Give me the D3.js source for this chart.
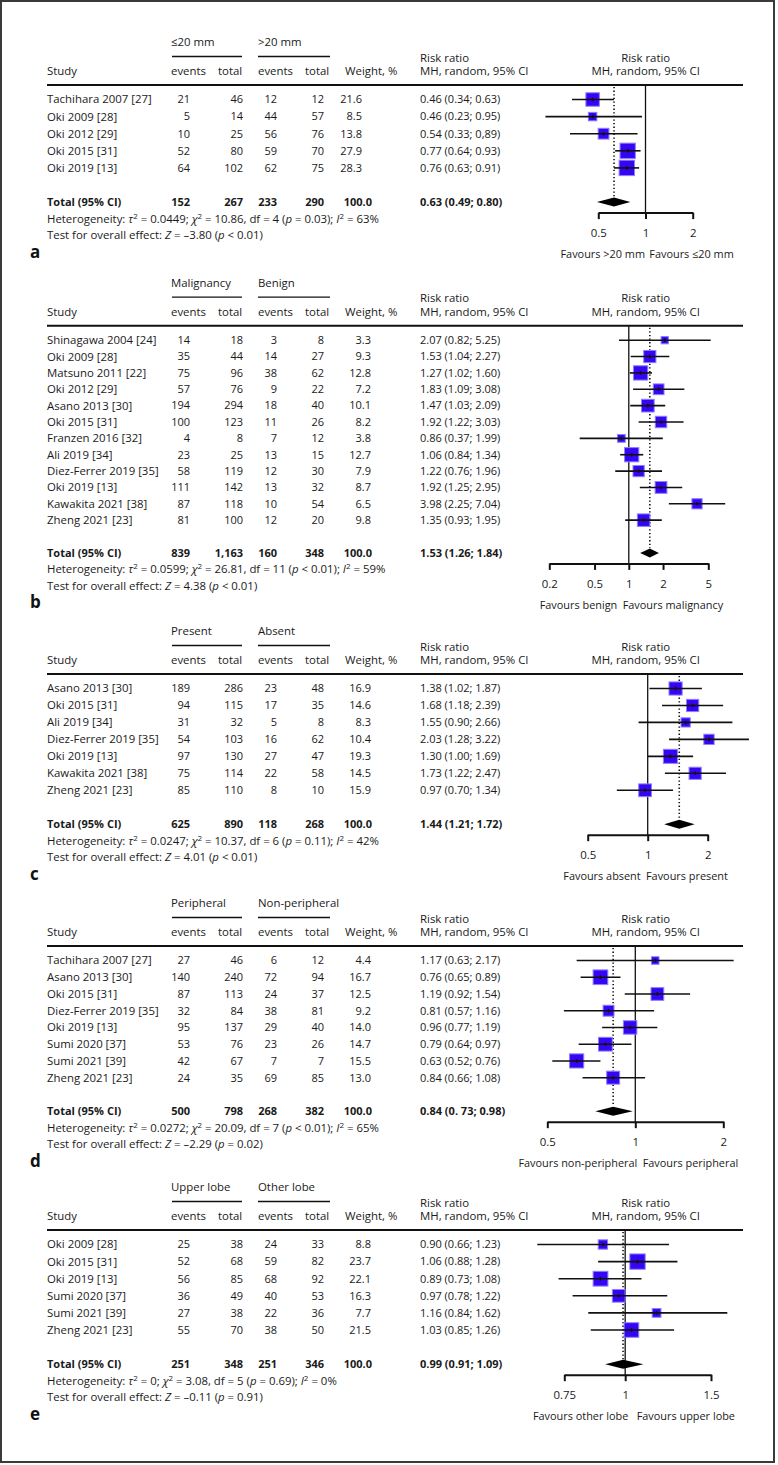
<!DOCTYPE html>
<html><head><meta charset="utf-8">
<script src="https://cdn.jsdelivr.net/npm/d3@7/dist/d3.min.js"></script>
<style>html,body{margin:0;padding:0;background:#fff}</style>
</head><body>
<svg id="chart" width="778" height="1465"></svg>
<script>
// ---------------- Panel a ----------------
const aGroupLabels = ["≤20 mm", ">20 mm"];
const aStudies = ["Tachihara 2007 [27]", "Oki 2009 [28]", "Oki 2012 [29]", "Oki 2015 [31]", "Oki 2019 [13]"];
const aEvents1 = [21, 5, 10, 52, 64];
const aTotal1 = [46, 14, 25, 80, 102];
const aEvents2 = [12, 44, 56, 59, 62];
const aTotal2 = [12, 57, 76, 70, 75];
const aWeight = [21.6, 8.5, 13.8, 27.9, 28.3];
const aRR = [0.46, 0.46, 0.54, 0.77, 0.76];
const aLower = [0.34, 0.23, 0.33, 0.64, 0.63];
const aUpper = [0.63, 0.95, 0.89, 0.93, 0.91];
const aCILabels = ["0.46 (0.34; 0.63)", "0.46 (0.23; 0.95)", "0.54 (0.33; 0,89)", "0.77 (0.64; 0.93)", "0.76 (0.63; 0.91)"];
const aTotalRow = [152, 267, 233, 290];
const aPooled = [0.63, 0.49, 0.80];
const aPooledLabel = "0.63 (0.49; 0.80)";
const aHeterogeneity = "Heterogeneity: {τ}^2 = 0.0449; {χ}^2 = 10.86, df = 4 ({p} = 0.03); {I}^2 = 63%";
const aTest = "Test for overall effect: {Z} = –3.80 ({p} < 0.01)";
const aTicks = [0.5, 1, 2];
const aFavours = ["Favours >20 mm", "Favours ≤20 mm"];

// ---------------- Panel b ----------------
const bGroupLabels = ["Malignancy", "Benign"];
const bStudies = ["Shinagawa 2004 [24]", "Oki 2009 [28]", "Matsuno 2011 [22]", "Oki 2012 [29]", "Asano 2013 [30]", "Oki 2015 [31]", "Franzen 2016 [32]", "Ali 2019 [34]", "Diez-Ferrer 2019 [35]", "Oki 2019 [13]", "Kawakita 2021 [38]", "Zheng 2021 [23]"];
const bEvents1 = [14, 35, 75, 57, 194, 100, 4, 23, 58, 111, 87, 81];
const bTotal1 = [18, 44, 96, 76, 294, 123, 8, 25, 119, 142, 118, 100];
const bEvents2 = [3, 14, 38, 9, 18, 11, 7, 13, 12, 13, 10, 12];
const bTotal2 = [8, 27, 62, 22, 40, 26, 12, 15, 30, 32, 54, 20];
const bWeight = [3.3, 9.3, 12.8, 7.2, 10.1, 8.2, 3.8, 12.7, 7.9, 8.7, 6.5, 9.8];
const bRR = [2.07, 1.53, 1.27, 1.83, 1.47, 1.92, 0.86, 1.06, 1.22, 1.92, 3.98, 1.35];
const bLower = [0.82, 1.04, 1.02, 1.09, 1.03, 1.22, 0.37, 0.84, 0.76, 1.25, 2.25, 0.93];
const bUpper = [5.25, 2.27, 1.60, 3.08, 2.09, 3.03, 1.99, 1.34, 1.96, 2.95, 7.04, 1.95];
const bCILabels = ["2.07 (0.82; 5.25)", "1.53 (1.04; 2.27)", "1.27 (1.02; 1.60)", "1.83 (1.09; 3.08)", "1.47 (1.03; 2.09)", "1.92 (1.22; 3.03)", "0.86 (0.37; 1.99)", "1.06 (0.84; 1.34)", "1.22 (0.76; 1.96)", "1.92 (1.25; 2.95)", "3.98 (2.25; 7.04)", "1.35 (0.93; 1.95)"];
const bTotalRow = [839, 1163, 160, 348];
const bPooled = [1.53, 1.26, 1.84];
const bPooledLabel = "1.53 (1.26; 1.84)";
const bHeterogeneity = "Heterogeneity: {τ}^2 = 0.0599; {χ}^2 = 26.81, df = 11 ({p} < 0.01); {I}^2 = 59%";
const bTest = "Test for overall effect: {Z} = 4.38 ({p} < 0.01)";
const bTicks = [0.2, 0.5, 1, 2, 5];
const bFavours = ["Favours benign", "Favours malignancy"];

// ---------------- Panel c ----------------
const cGroupLabels = ["Present", "Absent"];
const cStudies = ["Asano 2013 [30]", "Oki 2015 [31]", "Ali 2019 [34]", "Diez-Ferrer 2019 [35]", "Oki 2019 [13]", "Kawakita 2021 [38]", "Zheng 2021 [23]"];
const cEvents1 = [189, 94, 31, 54, 97, 75, 85];
const cTotal1 = [286, 115, 32, 103, 130, 114, 110];
const cEvents2 = [23, 17, 5, 16, 27, 22, 8];
const cTotal2 = [48, 35, 8, 62, 47, 58, 10];
const cWeight = [16.9, 14.6, 8.3, 10.4, 19.3, 14.5, 15.9];
const cRR = [1.38, 1.68, 1.55, 2.03, 1.30, 1.73, 0.97];
const cLower = [1.02, 1.18, 0.90, 1.28, 1.00, 1.22, 0.70];
const cUpper = [1.87, 2.39, 2.66, 3.22, 1.69, 2.47, 1.34];
const cCILabels = ["1.38 (1.02; 1.87)", "1.68 (1.18; 2.39)", "1.55 (0.90; 2.66)", "2.03 (1.28; 3.22)", "1.30 (1.00; 1.69)", "1.73 (1.22; 2.47)", "0.97 (0.70; 1.34)"];
const cTotalRow = [625, 890, 118, 268];
const cPooled = [1.44, 1.21, 1.72];
const cPooledLabel = "1.44 (1.21; 1.72)";
const cHeterogeneity = "Heterogeneity: {τ}^2 = 0.0247; {χ}^2 = 10.37, df = 6 ({p} = 0.11); {I}^2 = 42%";
const cTest = "Test for overall effect: {Z} = 4.01 ({p} < 0.01)";
const cTicks = [0.5, 1, 2];
const cFavours = ["Favours absent", "Favours present"];

// ---------------- Panel d ----------------
const dGroupLabels = ["Peripheral", "Non-peripheral"];
const dStudies = ["Tachihara 2007 [27]", "Asano 2013 [30]", "Oki 2015 [31]", "Diez-Ferrer 2019 [35]", "Oki 2019 [13]", "Sumi 2020 [37]", "Sumi 2021 [39]", "Zheng 2021 [23]"];
const dEvents1 = [27, 140, 87, 32, 95, 53, 42, 24];
const dTotal1 = [46, 240, 113, 84, 137, 76, 67, 35];
const dEvents2 = [6, 72, 24, 38, 29, 23, 7, 69];
const dTotal2 = [12, 94, 37, 81, 40, 26, 7, 85];
const dWeight = [4.4, 16.7, 12.5, 9.2, 14.0, 14.7, 15.5, 13.0];
const dRR = [1.17, 0.76, 1.19, 0.81, 0.96, 0.79, 0.63, 0.84];
const dLower = [0.63, 0.65, 0.92, 0.57, 0.77, 0.64, 0.52, 0.66];
const dUpper = [2.17, 0.89, 1.54, 1.16, 1.19, 0.97, 0.76, 1.08];
const dCILabels = ["1.17 (0.63; 2.17)", "0.76 (0.65; 0.89)", "1.19 (0.92; 1.54)", "0.81 (0.57; 1.16)", "0.96 (0.77; 1.19)", "0.79 (0.64; 0.97)", "0.63 (0.52; 0.76)", "0.84 (0.66; 1.08)"];
const dTotalRow = [500, 798, 268, 382];
const dPooled = [0.84, 0.73, 0.98];
const dPooledLabel = "0.84 (0. 73; 0.98)";
const dHeterogeneity = "Heterogeneity: {τ}^2 = 0.0272; {χ}^2 = 20.09, df = 7 ({p} < 0.01); {I}^2 = 65%";
const dTest = "Test for overall effect: {Z} = –2.29 ({p} = 0.02)";
const dTicks = [0.5, 1, 2];
const dFavours = ["Favours non-peripheral", "Favours peripheral"];

// ---------------- Panel e ----------------
const eGroupLabels = ["Upper lobe", "Other lobe"];
const eStudies = ["Oki 2009 [28]", "Oki 2015 [31]", "Oki 2019 [13]", "Sumi 2020 [37]", "Sumi 2021 [39]", "Zheng 2021 [23]"];
const eEvents1 = [25, 52, 56, 36, 27, 55];
const eTotal1 = [38, 68, 85, 49, 38, 70];
const eEvents2 = [24, 59, 68, 40, 22, 38];
const eTotal2 = [33, 82, 92, 53, 36, 50];
const eWeight = [8.8, 23.7, 22.1, 16.3, 7.7, 21.5];
const eRR = [0.90, 1.06, 0.89, 0.97, 1.16, 1.03];
const eLower = [0.66, 0.88, 0.73, 0.78, 0.84, 0.85];
const eUpper = [1.23, 1.28, 1.08, 1.22, 1.62, 1.26];
const eCILabels = ["0.90 (0.66; 1.23)", "1.06 (0.88; 1.28)", "0.89 (0.73; 1.08)", "0.97 (0.78; 1.22)", "1.16 (0.84; 1.62)", "1.03 (0.85; 1.26)"];
const eTotalRow = [251, 348, 251, 346];
const ePooled = [0.99, 0.91, 1.09];
const ePooledLabel = "0.99 (0.91; 1.09)";
const eHeterogeneity = "Heterogeneity: {τ}^2 = 0; {χ}^2 = 3.08, df = 5 ({p} = 0.69); {I}^2 = 0%";
const eTest = "Test for overall effect: {Z} = –0.11 ({p} = 0.91)";
const eTicks = [0.75, 1, 1.5];
const eFavours = ["Favours other lobe", "Favours upper lobe"];

const panelLetters = ["a", "b", "c", "d", "e"];
const totalWeightLabel = "100.0";
const columnHeaders = ["Study", "events", "total", "events", "total", "Weight, %"];
const rrHeader = ["Risk ratio", "MH, random, 95% CI"];

// ---------------- assemble ----------------
function mk(group, studies, e1, t1, e2, t2, w, rr, lo, hi, ci, tot, pooled, pooledLabel, het, test, ticks, fav) {
  return {group, studies, e1, t1, e2, t2, w, rr, lo, hi, ci, tot, pooled, pooledLabel, het, test, ticks, fav};
}
const panels = [
  mk(aGroupLabels, aStudies, aEvents1, aTotal1, aEvents2, aTotal2, aWeight, aRR, aLower, aUpper, aCILabels, aTotalRow, aPooled, aPooledLabel, aHeterogeneity, aTest, aTicks, aFavours),
  mk(bGroupLabels, bStudies, bEvents1, bTotal1, bEvents2, bTotal2, bWeight, bRR, bLower, bUpper, bCILabels, bTotalRow, bPooled, bPooledLabel, bHeterogeneity, bTest, bTicks, bFavours),
  mk(cGroupLabels, cStudies, cEvents1, cTotal1, cEvents2, cTotal2, cWeight, cRR, cLower, cUpper, cCILabels, cTotalRow, cPooled, cPooledLabel, cHeterogeneity, cTest, cTicks, cFavours),
  mk(dGroupLabels, dStudies, dEvents1, dTotal1, dEvents2, dTotal2, dWeight, dRR, dLower, dUpper, dCILabels, dTotalRow, dPooled, dPooledLabel, dHeterogeneity, dTest, dTicks, dFavours),
  mk(eGroupLabels, eStudies, eEvents1, eTotal1, eEvents2, eTotal2, eWeight, eRR, eLower, eUpper, eCILabels, eTotalRow, ePooled, ePooledLabel, eHeterogeneity, eTest, eTicks, eFavours)
];

// layout (positions only)
const layouts = [
  {heavy: 85,    step: 17.1,  axis: [598.3, 692.7], k: 2.9,  fav: [645, 649.3], wRight: 362},
  {heavy: 325.7, step: 16.36, axis: [549.3, 708.3], k: 4.0,  fav: [617.3, 622.7], wRight: 371},
  {heavy: 674,   step: 16.96, axis: [587.7, 707.7], k: 3.2,  fav: [640.7, 646], wRight: 371},
  {heavy: 946,   step: 16.74, axis: [547.3, 723.3], k: 3.6,  fav: [637.3, 642.7], wRight: 371},
  {heavy: 1230,  step: 17.1,  axis: [564.3, 711],   k: 3.15, fav: [628.3, 636.7], wRight: 371}
];

const FONT = "'Open Sans', 'Noto Sans', sans-serif";
const FS = 11.4;   // word text
const FSN = 11;    // numeric text
const FSB = 11;    // bold text
const TXT = "#1a1a1a";
const col = {study: 47, e1: 190, t1: 243, e2: 277, t2: 324, rr: 420,
             hE1: 171, hT1: 218, hE2: 258, hT2: 305, hW: 345, line: [47, 743], rrCenter: 645.7};
const fmtInt = d3.format(",");
const fmt1 = d3.format(".1f");

const svg = d3.select("#chart").attr("font-family", FONT).attr("font-size", FS);
svg.append("rect").attr("x", 1).attr("y", 1).attr("width", 773).attr("height", 1461)
  .attr("fill", "none").attr("stroke", "#3a3a3a").attr("stroke-width", 2);

function txt(g, x, y, s, anchor, weight, size) {
  const t = g.append("text").attr("x", x).attr("y", y).attr("dy", "0.35em")
    .attr("text-anchor", anchor || "start").attr("fill", TXT)
    .attr("font-weight", weight || "normal").text(s);
  if (size) t.attr("font-size", size);
  else if (weight === "bold") t.attr("font-size", FSB);
  return t;
}
function richText(g, x, y, s) {
  const t = g.append("text").attr("x", x).attr("y", y).attr("dy", "0.35em").attr("fill", TXT);
  const parts = s.split(/(\{[^}]+\}|\^2)/).filter(p => p.length);
  let sup = false;
  parts.forEach(p => {
    if (p === "^2") {
      t.append("tspan").attr("dy", -4).attr("font-size", 8).text("2");
      sup = true;
    } else {
      const ts = t.append("tspan");
      if (sup) { ts.attr("dy", 4); sup = false; }
      if (p.startsWith("{")) ts.attr("font-style", "italic").text(p.slice(1, -1));
      else ts.text(p);
    }
  });
  return t;
}

panels.forEach((p, pi) => {
  const L = layouts[pi];
  const g = svg.append("g");
  const H = L.heavy;
  const row0 = H + 14.5;
  const n = p.studies.length;
  const rowY = i => row0 + i * L.step;
  const totalY = row0 + (n + 1) * L.step;
  const axisY = totalY + 10.5;

  // headers
  txt(g, col.hE1, H - 42.5, p.group[0]);
  txt(g, col.hE2, H - 42.5, p.group[1]);
  g.append("line").attr("x1", 172).attr("x2", 242).attr("y1", H - 28.5).attr("y2", H - 28.5).attr("stroke", "#111").attr("stroke-width", 1.3);
  g.append("line").attr("x1", 258).attr("x2", 330).attr("y1", H - 28.5).attr("y2", H - 28.5).attr("stroke", "#111").attr("stroke-width", 1.3);
  const hx = [col.study, col.hE1, col.hT1, col.hE2, col.hT2, col.hW];
  columnHeaders.forEach((h, i) => txt(g, hx[i], H - 13.5, h));
  txt(g, col.rr, H - 27.3, rrHeader[0]);
  txt(g, col.rr, H - 13.5, rrHeader[1]);
  txt(g, col.rrCenter, H - 27.3, rrHeader[0], "middle");
  txt(g, col.rrCenter, H - 13.5, rrHeader[1], "middle");
  g.append("line").attr("x1", col.line[0]).attr("x2", col.line[1]).attr("y1", H).attr("y2", H)
    .attr("stroke", "#111").attr("stroke-width", 2);

  // table rows
  p.studies.forEach((s, i) => {
    const y = rowY(i);
    txt(g, col.study, y, s);
    txt(g, col.e1, y, fmtInt(p.e1[i]), "end", null, FSN);
    txt(g, col.t1, y, fmtInt(p.t1[i]), "end", null, FSN);
    txt(g, col.e2, y, fmtInt(p.e2[i]), "end", null, FSN);
    txt(g, col.t2, y, fmtInt(p.t2[i]), "end", null, FSN);
    txt(g, L.wRight, y, fmt1(p.w[i]), "end", null, FSN);
    txt(g, col.rr, y, p.ci[i], "start", null, FSN);
  });
  // total row
  txt(g, col.study, totalY, "Total (95% CI)", "start", "bold");
  txt(g, col.e1, totalY, fmtInt(p.tot[0]), "end", "bold");
  txt(g, col.t1, totalY, fmtInt(p.tot[1]), "end", "bold");
  txt(g, col.e2, totalY, fmtInt(p.tot[2]), "end", "bold");
  txt(g, col.t2, totalY, fmtInt(p.tot[3]), "end", "bold");
  txt(g, 372, totalY, totalWeightLabel, "end", "bold");
  txt(g, col.rr, totalY, p.pooledLabel, "start", "bold");
  richText(g, col.study, totalY + 16.5, p.het);
  richText(g, col.study, totalY + 33, p.test);
  g.append("text").attr("x", 30).attr("y", totalY + 55.5).attr("font-size", 17).attr("font-weight", "bold")
    .attr("fill", "#111").text(panelLetters[pi]);

  // forest plot
  const x = d3.scaleLog().domain([p.ticks[0], p.ticks[p.ticks.length - 1]]).range(L.axis);
  g.append("line").attr("x1", x(1)).attr("x2", x(1)).attr("y1", H).attr("y2", axisY)
    .attr("stroke", "#111").attr("stroke-width", 1.3);
  g.append("line").attr("x1", x(p.pooled[0])).attr("x2", x(p.pooled[0]))
    .attr("y1", H + 2).attr("y2", totalY - 5)
    .attr("stroke", "#111").attr("stroke-width", 1.6).attr("stroke-dasharray", "1.3,2.3");

  const rows = g.selectAll(".st").data(p.studies.map((s, i) => i)).enter().append("g");
  rows.append("rect")
    .attr("x", i => x(p.rr[i]) - L.k * Math.sqrt(p.w[i]) / 2)
    .attr("y", i => rowY(i) - L.k * Math.sqrt(p.w[i]) / 2)
    .attr("width", i => L.k * Math.sqrt(p.w[i]))
    .attr("height", i => L.k * Math.sqrt(p.w[i]))
    .attr("fill", "#3605f4").attr("stroke", "#8a82ff").attr("stroke-width", 1);
  rows.append("line")
    .attr("x1", i => x(p.lo[i])).attr("x2", i => x(p.hi[i]))
    .attr("y1", i => rowY(i)).attr("y2", i => rowY(i))
    .attr("stroke", "#111").attr("stroke-width", 1.6);
  rows.append("line")
    .attr("x1", i => x(p.rr[i])).attr("x2", i => x(p.rr[i]))
    .attr("y1", i => rowY(i) - 1.8).attr("y2", i => rowY(i) + 1.8)
    .attr("stroke", "#111").attr("stroke-width", 1.4);

  // diamond
  const dx = [x(p.pooled[1]), x(p.pooled[0]), x(p.pooled[2]), x(p.pooled[0])];
  g.append("path").attr("d", `M${dx[0]},${totalY}L${dx[1]},${totalY - 4.5}L${dx[2]},${totalY}L${dx[3]},${totalY + 4.5}Z`)
    .attr("fill", "#000");

  // axis
  const ax = g.append("g").attr("transform", `translate(0,${axisY})`)
    .call(d3.axisBottom(x).tickValues(p.ticks).tickSize(6.5).tickSizeOuter(0).tickFormat(d => String(d)));
  ax.attr("font-family", FONT).attr("font-size", FS);
  ax.select(".domain").attr("stroke", "#111").attr("stroke-width", 2);
  ax.selectAll(".tick line").attr("stroke", "#111").attr("stroke-width", 2);
  ax.selectAll(".tick text").attr("y", 20.5).attr("dy", "0.35em").attr("fill", TXT);

  txt(g, L.fav[0], axisY + 41.5, p.fav[0], "end", null, 10.9);
  txt(g, L.fav[1], axisY + 41.5, p.fav[1], "start", null, 10.9);
});
</script>
</body></html>
